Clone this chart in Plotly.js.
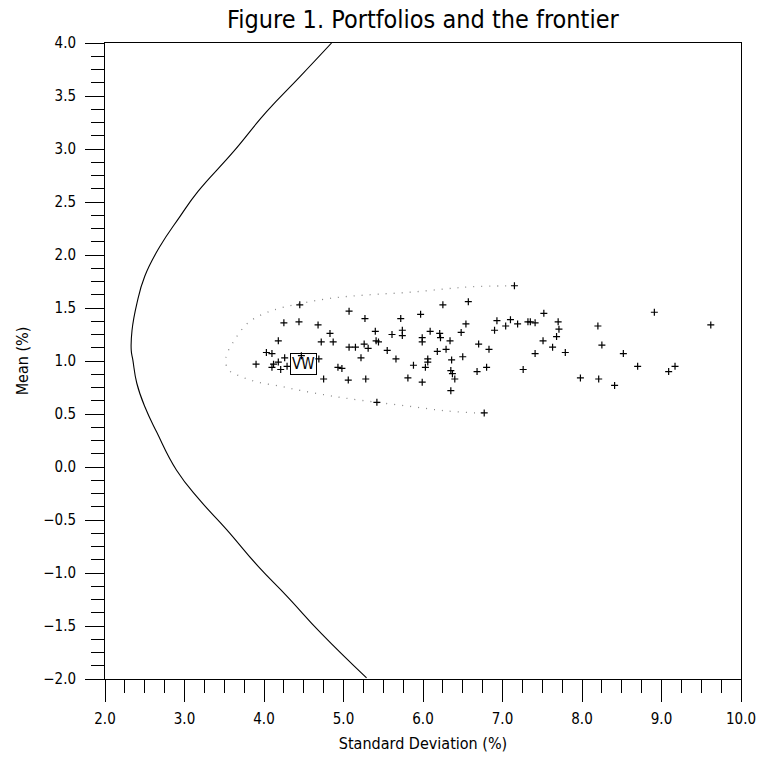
<!DOCTYPE html>
<html>
<head>
<meta charset="utf-8">
<script src="https://cdn.plot.ly/plotly-3.0.1.min.js"></script>
<style>html,body{margin:0;padding:0;background:#fff;}#chart{width:762px;height:759px;}</style>
</head>
<body>
<div id="chart"></div>
<script>
// Frontier curve
const frontierSD = [4.85,4.45,4.03,3.61,3.17,2.94,2.69,2.50,2.40,2.34,2.33,2.35,2.40,2.50,2.65,2.90,3.19,3.53,3.93,4.29,4.72,5.29];
const frontierMean = [4.00,3.68,3.35,2.97,2.60,2.36,2.08,1.80,1.54,1.29,1.10,1.01,0.79,0.57,0.33,-0.03,-0.31,-0.59,-0.94,-1.22,-1.57,-1.99];

// Dotted boundary around portfolios
const boundSD = [7.15,6.61,6.28,5.86,5.44,5.06,4.73,4.26,4.01,3.80,3.64,3.52,3.55,3.72,3.93,4.22,4.47,4.77,5.02,5.42,5.86,6.28,6.68,6.77];
const boundMean = [1.71,1.70,1.68,1.65,1.63,1.61,1.58,1.51,1.45,1.36,1.21,1.03,0.92,0.85,0.80,0.76,0.72,0.68,0.65,0.61,0.57,0.53,0.51,0.51];

// Portfolios
const portSD = [4.45,5.07,4.25,4.44,4.68,4.83,4.18,4.72,4.87,5.07,4.03,4.10,4.47,4.26,4.69,3.90,4.18,4.12,4.10,4.29,4.21,4.93,4.98,4.75,5.06,
  6.57,6.25,5.97,5.27,5.72,6.54,5.40,5.61,5.74,5.74,6.09,6.21,6.22,6.48,5.99,5.99,5.41,5.44,6.34,6.70,5.15,5.26,5.31,5.55,6.18,6.29,5.22,5.66,6.06,6.06,6.36,6.50,5.88,6.03,6.35,6.37,6.40,6.68,5.28,5.81,5.99,6.35,5.42,
  7.15,7.52,6.93,7.10,7.32,7.35,7.41,7.70,7.04,7.19,7.71,8.20,6.90,7.51,7.68,8.25,6.83,7.63,7.41,7.79,6.80,7.26,7.98,8.21,6.77,
  8.91,9.62,8.52,8.70,9.17,9.09,8.41];
const portMean = [1.53,1.47,1.36,1.37,1.34,1.26,1.19,1.18,1.18,1.13,1.08,1.07,1.05,1.03,1.02,0.97,0.99,0.97,0.94,0.95,0.92,0.94,0.93,0.83,0.82,
  1.56,1.53,1.44,1.40,1.40,1.35,1.28,1.25,1.29,1.24,1.28,1.26,1.22,1.27,1.22,1.18,1.19,1.18,1.19,1.16,1.13,1.16,1.12,1.10,1.09,1.11,1.03,1.02,1.02,0.99,1.01,1.04,0.96,0.94,0.91,0.88,0.83,0.90,0.83,0.84,0.80,0.72,0.61,
  1.71,1.45,1.38,1.39,1.37,1.37,1.36,1.37,1.33,1.35,1.30,1.33,1.29,1.19,1.23,1.15,1.11,1.13,1.07,1.08,0.94,0.92,0.84,0.83,0.51,
  1.46,1.34,1.07,0.95,0.95,0.90,0.77];

// Value-weighted market portfolio
const vwSD = [4.50];
const vwMean = [0.97];
const vwLabel = ["VW"];

const FONT = "'DejaVu Sans Condensed', 'Liberation Sans', sans-serif";

const traces = [
  {x: frontierSD, y: frontierMean, mode: 'lines', line: {color: '#000', width: 1.1, shape: 'spline', smoothing: 1.3}, hoverinfo: 'skip'},
  {x: boundSD, y: boundMean, mode: 'lines', line: {color: '#888', width: 1.3, dash: '1px,7px', shape: 'spline', smoothing: 1}, hoverinfo: 'skip'},
  {x: portSD, y: portMean, mode: 'markers', marker: {symbol: 'cross-thin', size: 5, color: '#000', line: {color: '#000', width: 1.2}}}
];

const axisCommon = {
  showgrid: false, zeroline: false, showline: true, mirror: true,
  linecolor: '#000', linewidth: 1, ticks: 'outside', tickcolor: '#000', tickwidth: 1,
  tickfont: {family: FONT, size: 15, color: '#000'}, tickformat: '.1f'
};

const layout = {
  width: 762, height: 759,
  margin: {l: 105, r: 21, t: 43, b: 80},
  paper_bgcolor: '#fff', plot_bgcolor: '#fff',
  showlegend: false,
  title: {text: 'Figure 1. Portfolios and the frontier', x: 0.555, xanchor: 'center', y: 0.975, yanchor: 'middle',
          font: {family: FONT, size: 25, color: '#000'}},
  xaxis: Object.assign({}, axisCommon, {
    range: [2, 10], dtick: 1, tick0: 2, ticklen: 22, ticklabelstandoff: 4,
    minor: {dtick: 0.25, ticklen: 13, tickcolor: '#000', ticks: 'outside', showgrid: false},
    title: {text: 'Standard Deviation (%)', standoff: 10, font: {family: FONT, size: 16, color: '#000'}}
  }),
  yaxis: Object.assign({}, axisCommon, {
    range: [-2, 4], dtick: 0.5, tick0: 0, ticklen: 19, ticklabelstandoff: 6,
    minor: {dtick: 0.125, ticklen: 13, tickcolor: '#000', ticks: 'outside', showgrid: false},
    title: {text: 'Mean (%)', standoff: 10, font: {family: FONT, size: 16, color: '#000'}}
  }),
  annotations: vwSD.map((v, i) => ({
    x: v, y: vwMean[i], xref: 'x', yref: 'y', text: vwLabel[i], showarrow: false,
    font: {family: FONT, size: 15, color: '#000'}, bordercolor: '#000', borderwidth: 1, borderpad: 1,
    bgcolor: 'rgba(255,255,255,0)'
  }))
};

Plotly.newPlot('chart', traces, layout, {displayModeBar: false, staticPlot: true});
</script>
</body>
</html>
